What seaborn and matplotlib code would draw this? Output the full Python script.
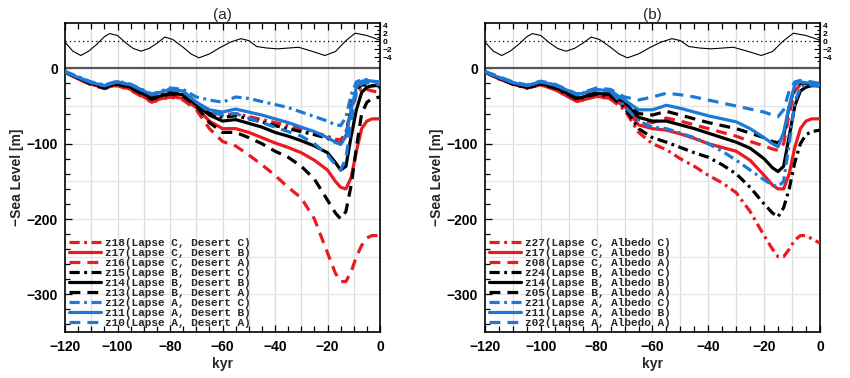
import matplotlib
matplotlib.use("Agg")
import matplotlib.pyplot as plt
import seaborn as sns
from matplotlib.ticker import MultipleLocator, FixedLocator

sns.set_theme(style="white")
plt.rcParams['font.family'] = ['Liberation Sans', 'DejaVu Sans']

# ---------------- data ----------------
kyr = [-120, -115, -110, -105, -100, -95, -90, -87, -85, -80, -75, -70, -65, -60, -55, -50,
       -45, -40, -35, -30, -25, -20, -17, -15, -13, -11, -9, -7, -5, -3, 0]

# panel (a): Lapse / Desert experiments
a_labels = ["z18(Lapse C, Desert C)", "z17(Lapse C, Desert B)", "z16(Lapse C, Desert A)",
            "z15(Lapse B, Desert C)", "z14(Lapse B, Desert B)", "z13(Lapse B, Desert A)",
            "z12(Lapse A, Desert C)", "z11(Lapse A, Desert B)", "z10(Lapse A, Desert A)"]
a_z18 = [-5, -13, -20, -25, -21, -26, -36, -42, -40, -35, -38, -45, -60, -62, -60, -64, -68, -72, -76, -80,
         -85, -90, -94, -95, -85, -55, -35, -28, -28, -30, -32]
a_z17 = [-5, -14, -21, -26, -22, -28, -38, -44, -42, -37, -40, -52, -70, -80, -80, -85, -92, -99, -105, -112,
         -122, -135, -150, -158, -160, -145, -110, -80, -70, -67, -67]
a_z16 = [-5, -14, -22, -27, -23, -29, -39, -45, -43, -38, -42, -55, -80, -97, -103, -115, -128, -142, -158, -172,
         -200, -245, -272, -283, -283, -270, -250, -235, -225, -222, -222]
a_z15 = [-5, -12, -19, -24, -19, -24, -33, -39, -37, -32, -34, -45, -60, -65, -63, -67, -71, -76, -80, -84,
         -88, -93, -98, -100, -90, -50, -28, -22, -22, -23, -25]
a_z14 = [-5, -13, -20, -25, -20, -25, -34, -40, -38, -33, -35, -48, -62, -70, -68, -73, -78, -85, -90, -96,
         -103, -112, -125, -135, -130, -90, -55, -32, -25, -23, -23]
a_z13 = [-5, -13, -21, -26, -21, -26, -35, -41, -39, -34, -37, -50, -72, -85, -85, -92, -100, -110, -118, -130,
         -147, -175, -192, -200, -190, -155, -105, -60, -45, -40, -38]
a_z12 = [-4, -11, -18, -22, -17, -21, -29, -34, -32, -26, -28, -38, -42, -45, -38, -40, -44, -48, -52, -58,
         -64, -70, -75, -76, -65, -35, -18, -15, -15, -17, -20]
a_z11 = [-5, -12, -19, -23, -18, -22, -30, -35, -33, -28, -30, -45, -55, -58, -54, -58, -62, -67, -72, -78,
         -84, -92, -98, -101, -90, -55, -25, -17, -16, -17, -18]
a_z10 = [-5, -12, -19, -23, -18, -22, -30, -35, -33, -28, -31, -45, -58, -62, -60, -66, -72, -78, -84, -90,
         -100, -115, -128, -135, -120, -70, -30, -20, -19, -20, -22]

# panel (b): Lapse / Albedo experiments
b_labels = ["z27(Lapse C, Albedo C)", "z17(Lapse C, Albedo B)", "z08(Lapse C, Albedo A)",
            "z24(Lapse B, Albedo C)", "z14(Lapse B, Albedo B)", "z05(Lapse B, Albedo A)",
            "z21(Lapse A, Albedo C)", "z11(Lapse A, Albedo B)", "z02(Lapse A, Albedo A)"]
b_z27 = [-5, -14, -21, -26, -22, -28, -38, -44, -42, -37, -41, -55, -85, -100, -108, -120, -130, -142, -152, -165,
         -190, -222, -240, -250, -250, -240, -228, -222, -222, -226, -232]
b_z17 = [-5, -14, -21, -26, -22, -28, -38, -44, -42, -37, -40, -50, -75, -80, -82, -87, -93, -100, -105, -110,
         -122, -142, -155, -160, -160, -140, -105, -80, -70, -67, -67]
b_z08 = [-5, -13, -20, -25, -21, -27, -36, -42, -40, -35, -38, -45, -68, -72, -66, -70, -75, -80, -85, -90,
         -97, -103, -107, -109, -100, -60, -30, -22, -22, -22, -23]
b_z24 = [-5, -13, -21, -26, -21, -26, -35, -41, -39, -34, -37, -52, -80, -92, -98, -105, -112, -118, -128, -140,
         -158, -180, -192, -197, -185, -160, -125, -100, -88, -84, -82]
b_z14 = [-5, -13, -20, -25, -20, -25, -34, -40, -38, -33, -35, -45, -65, -70, -70, -75, -80, -86, -92, -98,
         -106, -120, -132, -137, -130, -90, -50, -30, -25, -23, -23]
b_z05 = [-5, -12, -19, -24, -19, -24, -33, -39, -37, -32, -34, -42, -60, -62, -57, -62, -67, -72, -76, -80,
         -86, -92, -97, -99, -90, -50, -25, -20, -20, -21, -22]
b_z21 = [-5, -12, -19, -23, -18, -22, -30, -35, -33, -28, -31, -50, -70, -78, -80, -86, -92, -100, -110, -122,
         -135, -148, -155, -157, -150, -100, -45, -25, -22, -22, -24]
b_z11 = [-5, -12, -19, -23, -18, -22, -30, -35, -33, -28, -30, -42, -55, -55, -49, -53, -58, -63, -67, -71,
         -80, -92, -100, -104, -85, -50, -22, -18, -19, -20, -22]
b_z02 = [-4, -11, -18, -22, -17, -21, -29, -34, -32, -26, -28, -38, -42, -38, -33, -35, -38, -42, -46, -50,
         -54, -58, -62, -64, -55, -30, -18, -16, -17, -18, -20]

# temperature forcing (upper strip, right axis)
temp_kyr = [-120, -117, -114, -111, -108, -105, -103, -100, -97, -94, -91, -88, -85, -82, -79, -75, -72, -69,
            -65, -61, -57, -53, -50, -47, -43, -39, -35, -31, -26, -21, -17, -13, -9.5, -5, -2, 0]
temp = [-0.2, -2.5, -3.6, -2.5, -0.8, 1.2, 2.0, 1.5, -0.3, -1.8, -2.5, -1.8, -0.5, 1.1, 0.5, -1.5, -3.2, -4.2,
        -3.2, -1.6, -0.2, 0.7, 0.2, -1.3, -1.7, -1.9, -1.7, -1.5, -2.5, -3.6, -2.6, 0.2, 2.1, 1.5, 0.8, 0.3]

x_ticks = [-120, -100, -80, -60, -40, -20, 0]
y_ticks = [0, -100, -200, -300]
t_ticks = [4, 2, 0, -2, -4]

# ---------------- style ----------------
RED, BLACK, BLUE = "#ea1b1f", "#000000", "#1d79d6"
colors = [RED] * 3 + [BLACK] * 3 + [BLUE] * 3
DASHDOT = (0, (3.2, 1.4, 0.9, 1.4))
DASHED = (0, (3.4, 2.2))
styles = [DASHDOT, "-", DASHED] * 3

fig = plt.figure(figsize=(8.5, 3.78), dpi=100)
fig.patch.set_facecolor("white")

boxes = [[0.0765, 0.1217, 0.3706, 0.817], [0.5706, 0.1217, 0.394, 0.817]]
panels = [("(a)", a_labels, [a_z18, a_z17, a_z16, a_z15, a_z14, a_z13, a_z12, a_z11, a_z10]),
          ("(b)", b_labels, [b_z27, b_z17, b_z08, b_z24, b_z14, b_z05, b_z21, b_z11, b_z02])]

SL_T0, SL_PER_DEG = 35.8, 5.2
YLIM = (-350, 60)

for box, (title, labels, series) in zip(boxes, panels):
    ax = fig.add_axes(box)
    ax.set_facecolor("white")
    # grid
    for gx in range(-110, 0, 10):
        ax.axvline(gx, color="#dcdcdc", lw=0.9, zorder=0)
    for gy in range(-300, 0, 50):
        ax.axhline(gy, color="#e4e4e4", lw=0.9, zorder=0)
    ax.axhline(0, color="#555555", lw=1.6, zorder=1)

    for vals, lab, c, ls in zip(series, labels, colors, styles):
        sns.lineplot(x=kyr, y=vals, ax=ax, color=c, lw=2.3, linestyle=ls, label=lab,
                     estimator=None, sort=False, zorder=3)

    ax.set_xlim(-120, 0)
    ax.set_ylim(*YLIM)
    ax.set_xticks(x_ticks)
    ax.set_xticklabels([str(v).replace("-", "\u2212") for v in x_ticks])
    ax.set_yticks(y_ticks)
    ax.set_yticklabels([str(v).replace("-", "\u2212") for v in y_ticks])
    ax.xaxis.set_minor_locator(MultipleLocator(5))
    ax.yaxis.set_minor_locator(FixedLocator(list(range(-340, 1, 20))))
    ax.tick_params(axis="x", which="both", direction="in", top=True, bottom=True,
                   length=5, width=0.9, labelsize=10, pad=6, colors="black")
    ax.tick_params(axis="x", which="minor", length=4)
    ax.tick_params(axis="y", which="both", direction="in", left=True, right=False,
                   length=5, width=0.9, labelsize=10, pad=5, colors="black")
    ax.tick_params(axis="y", which="minor", length=3.5)
    for lbl in ax.get_xticklabels() + ax.get_yticklabels():
        lbl.set_fontweight("bold")
    for sp in ax.spines.values():
        sp.set_color("black")
        sp.set_linewidth(1.2)
    ax.set_xlabel("kyr", fontsize=10, fontweight="bold", labelpad=2)
    ax.set_ylabel("\u2212Sea Level [m]", fontsize=10, fontweight="bold", labelpad=2)
    ax.set_title(title, fontsize=11, pad=3)

    leg = ax.legend(loc="lower left", frameon=False,
                    prop={"family": "Liberation Mono", "weight": "bold", "size": 8},
                    handlelength=2.8, handletextpad=0.4, labelspacing=0.0,
                    borderpad=0.15, borderaxespad=0.25)

    # temperature strip with right axis
    ax2 = ax.twinx()
    ax2.set_ylim((YLIM[0] - SL_T0) / SL_PER_DEG, (YLIM[1] - SL_T0) / SL_PER_DEG)
    ax2.axhline(0, color="black", lw=0.9, ls=(0, (1, 2.5)))
    sns.lineplot(x=temp_kyr, y=temp, ax=ax2, color="black", lw=0.8, estimator=None, sort=False)
    ax2.set_yticks(t_ticks)
    ax2.set_yticklabels([str(v).replace("-", "\u2212") for v in t_ticks])
    ax2.yaxis.set_minor_locator(FixedLocator([-5, -3, -1, 1, 3, 5]))
    ax2.tick_params(axis="y", which="both", direction="in", length=4, width=0.8,
                    labelsize=6, pad=2, colors="black")
    ax2.tick_params(axis="y", which="minor", length=2.5)
    for lbl in ax2.get_yticklabels():
        lbl.set_fontweight("bold")
    ax2.set_ylabel("")
    ax2.set_xlim(-120, 0)
    for sp in ax2.spines.values():
        sp.set_visible(False)

fig.savefig("out.png", dpi=100, facecolor="white")
